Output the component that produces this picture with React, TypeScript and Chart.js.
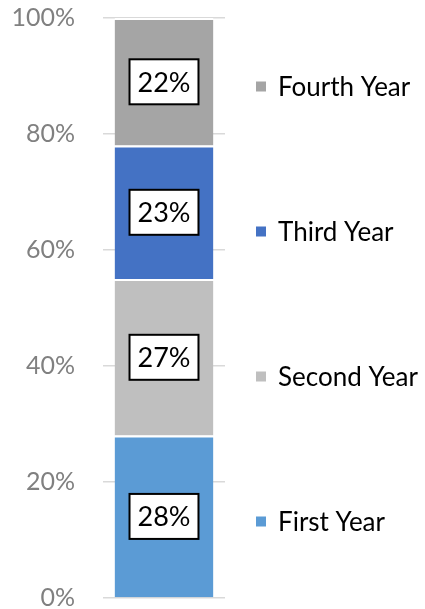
import React, { useEffect, useRef } from "react";
import { Chart, registerables } from "chart.js";

Chart.register(...registerables);

const categories = ["Class"];
const seriesNames = ["First Year", "Second Year", "Third Year", "Fourth Year"];
const firstYear = [28];
const secondYear = [27];
const thirdYear = [23];
const fourthYear = [22];
const seriesColors = ["#5B9BD5", "#BFBFBF", "#4472C4", "#A5A5A5"];
const yTicks = [0, 20, 40, 60, 80, 100];

const FONT = "Lato, 'Open Sans', sans-serif";

const labelPlugin = {
  id: "boxLabels",
  afterDatasetsDraw(chart: any) {
    const ctx = chart.ctx;
    ctx.save();
    ctx.font = `27px ${FONT}`;
    ctx.textAlign = "center";
    ctx.textBaseline = "middle";
    chart.data.datasets.forEach((ds: any, i: number) => {
      const meta = chart.getDatasetMeta(i);
      meta.data.forEach((bar: any, j: number) => {
        const v = ds.data[j];
        const text = `${v}%`;
        const cx = bar.x;
        const cy = (bar.y + bar.base) / 2;
        const tw = ctx.measureText(text).width;
        const w = tw + 16;
        const h = 45;
        ctx.fillStyle = "#ffffff";
        ctx.fillRect(cx - w / 2, cy - h / 2, w, h);
        ctx.strokeStyle = "#000000";
        ctx.lineWidth = 2;
        ctx.strokeRect(cx - w / 2, cy - h / 2, w, h);
        ctx.fillStyle = "#000000";
        ctx.fillText(text, cx, cy + 1);
      });
    });
    ctx.restore();
  },
};

const legendPlugin = {
  id: "sideLegend",
  afterDraw(chart: any) {
    const ctx = chart.ctx;
    const area = chart.chartArea;
    const n = chart.data.datasets.length;
    const step = (area.bottom - area.top) / n;
    ctx.save();
    ctx.font = `26px ${FONT}`;
    ctx.textAlign = "left";
    ctx.textBaseline = "middle";
    for (let k = 0; k < n; k++) {
      const i = n - 1 - k;
      const ds = chart.data.datasets[i];
      const cy = area.top + (k + 0.5) * step - 4;
      const x0 = area.right + 31;
      ctx.fillStyle = ds.backgroundColor;
      ctx.fillRect(x0, cy - 5, 10, 10);
      ctx.fillStyle = "#000000";
      ctx.fillText(ds.label, x0 + 22, cy + 1);
    }
    ctx.restore();
  },
};

export default function App() {
  const ref = useRef<HTMLCanvasElement | null>(null);
  useEffect(() => {
    if (!ref.current) return;
    const values = [firstYear, secondYear, thirdYear, fourthYear];
    const chart = new Chart(ref.current, {
      type: "bar",
      data: {
        labels: categories,
        datasets: seriesNames.map((name, i) => ({
          label: name,
          data: values[i],
          backgroundColor: seriesColors[i],
          borderColor: "#ffffff",
          borderWidth: { top: 2, left: 0, right: 0, bottom: 0 },
          borderSkipped: "start",
          barPercentage: 0.81,
          categoryPercentage: 1,
        })),
      },
      options: {
        animation: false,
        responsive: true,
        maintainAspectRatio: false,
        layout: { padding: { top: 18, bottom: 11, left: 0, right: 200 } },
        plugins: {
          legend: { display: false },
          tooltip: { enabled: false },
        },
        scales: {
          x: {
            stacked: true,
            display: false,
          },
          y: {
            stacked: true,
            min: 0,
            max: 100,
            afterBuildTicks: (axis: any) => {
              axis.ticks = yTicks.map((v) => ({ value: v }));
            },
            afterFit: (axis: any) => {
              axis.width = 103;
              axis.paddingTop = 0;
              axis.paddingBottom = 0;
            },
            border: { display: false },
            grid: {
              color: "#D9D9D9",
              lineWidth: 1.5,
              drawTicks: false,
            },
            ticks: {
              padding: 28,
              color: "#808080",
              font: { family: FONT, size: 25, lineHeight: 1 },
              callback: (v: any) => `${v}%`,
            },
          },
        },
      },
      plugins: [labelPlugin, legendPlugin],
    });
    return () => chart.destroy();
  }, []);
  return (
    <div style={{ position: "fixed", left: 0, top: 0, width: 425, height: 609, background: "#fff" }}>
      <canvas ref={ref} />
    </div>
  );
}
